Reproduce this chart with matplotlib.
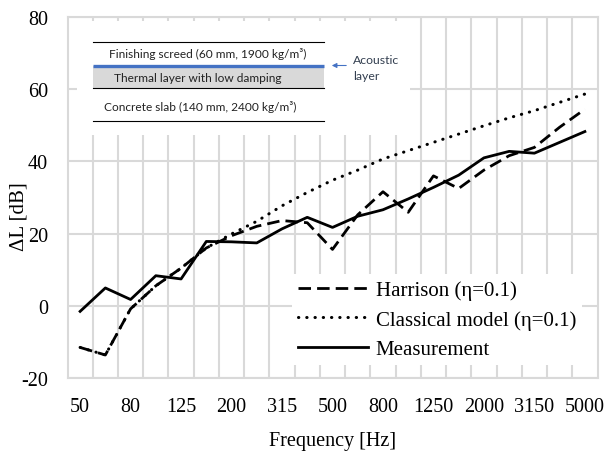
import matplotlib
matplotlib.use("Agg")
import matplotlib.pyplot as plt
from matplotlib.patches import Rectangle

plt.rcParams["axes.unicode_minus"] = False

# third-octave bands
bands = ["50", "63", "80", "100", "125", "160", "200", "250", "315", "400", "500",
         "630", "800", "1000", "1250", "1600", "2000", "2500", "3150", "4000", "5000"]

# delta L values in dB
harrison = [-11.6, -13.7, -0.9, 5.5, 10.4, 16.0, 19.4, 22.0, 23.6, 23.0, 15.6,
            25.2, 31.6, 25.9, 36.0, 32.5, 37.6, 41.6, 43.9, 49.5, 54.5]
classical = [-11.6, -13.7, -0.9, 5.5, 10.4, 16.0, 19.9, 23.4, 27.7, 31.4, 34.8,
             37.6, 40.7, 43.0, 45.3, 47.6, 49.9, 52.1, 54.1, 56.4, 58.7]
measurement = [-1.6, 4.9, 1.7, 8.3, 7.4, 17.8, 17.7, 17.4, 21.3, 24.5, 21.7,
               24.8, 26.6, 29.6, 32.8, 36.2, 41.0, 42.8, 42.3, 45.3, 48.3]

W, H = 609, 452
serif = "Liberation Serif"
grid_col = "#d9d9d9"

def px(x0, y0, x1, y1):
    # pixel box (from top-left) -> figure fraction rect
    return [x0 / W, 1 - y1 / H, (x1 - x0) / W, (y1 - y0) / H]

fig = plt.figure(figsize=(W / 100, H / 100), dpi=100)
ax = fig.add_axes(px(67.5, 18.3, 597.5, 378.7))

x = list(range(len(bands)))
ax.plot(x, harrison, color="black", lw=2.0, linestyle=(0, (4.5, 2.2)),
        label="Harrison (\u03b7=0.1)")
ax.plot(x, classical, color="black", lw=2.2, linestyle=(0, (0.1, 2.6)),
        dash_capstyle="round", label="Classical model (\u03b7=0.1)")
ax.plot(x, measurement, color="black", lw=2.0, label="Measurement")

ax.set_xlim(-0.5, len(bands) - 0.5)
ax.set_ylim(-20, 80)
ax.set_yticks(range(-20, 81, 20))
ax.set_xticks(x[::2])
ax.set_xticklabels(bands[::2])
ax.set_xticks([i + 0.5 for i in x[:-1]], minor=True)
ax.tick_params(which="both", length=0)
ax.tick_params(axis="x", pad=14)
ax.tick_params(axis="y", pad=14)
for lab in ax.get_xticklabels() + ax.get_yticklabels():
    lab.set_fontfamily(serif)
    lab.set_fontsize(14.5)

ax.set_axisbelow(True)
ax.grid(axis="y", which="major", color=grid_col, lw=1.5)
ax.grid(axis="x", which="minor", color=grid_col, lw=1.5)
for s in ax.spines.values():
    s.set_color(grid_col)
    s.set_linewidth(1.5)

ax.set_xlabel("Frequency [Hz]", family=serif, fontsize=14.5, labelpad=11)
ax.set_ylabel("\u0394L [dB]", family=serif, fontsize=15)
ax.yaxis.set_label_coords(-0.0745, 0.451)

leg = ax.legend(loc="upper left", bbox_to_anchor=(0.4236, 0.2877), frameon=True,
                fancybox=False, edgecolor="none", facecolor="white", framealpha=1,
                prop={"family": serif, "size": 15}, handlelength=3.37,
                handletextpad=0.34, labelspacing=0.47, borderpad=0.3,
                borderaxespad=0)

# inset sketch of the floor build-up
ins = fig.add_axes(px(77, 22, 410, 136))
ins.set_xlim(77, 410)
ins.set_ylim(136, 22)
ins.set_xticks([])
ins.set_yticks([])
for s in ins.spines.values():
    s.set_visible(False)

sans = ["Lato", "DejaVu Sans"]
ins.add_patch(Rectangle((93, 66.5), 231, 22.2, facecolor="#d9d9d9", edgecolor="none"))
ins.plot([93, 324], [43.3, 43.3], color="black", lw=0.8)
ins.plot([93, 324], [88.7, 88.7], color="black", lw=0.8)
ins.plot([93, 324], [122.3, 122.3], color="black", lw=0.8)
ins.plot([93, 324], [66.5, 66.5], color="#4472c4", lw=2.4, solid_capstyle="butt")
ins.text(208, 54.5, "Finishing screed (60 mm, 1900 kg/m\u00b3)", ha="center", va="center",
         family=sans, fontsize=8.6, color="#222222")
ins.text(198, 78, "Thermal layer with low damping", ha="center", va="center",
         family=sans, fontsize=8.6, color="#222222")
ins.text(200, 107, "Concrete slab (140 mm, 2400 kg/m\u00b3)", ha="center", va="center",
         family=sans, fontsize=8.6, color="#222222")
ins.annotate("", xy=(329, 66.5), xytext=(349, 66.5),
             arrowprops=dict(arrowstyle="-|>", color="#4472c4", lw=0.8,
                             mutation_scale=7))
ins.text(353, 60, "Acoustic", ha="left", va="center", family=sans, fontsize=8.8,
         color="#333f50")
ins.text(353, 76, "layer", ha="left", va="center", family=sans, fontsize=8.8,
         color="#333f50")

fig.savefig("out.png", dpi=100)
